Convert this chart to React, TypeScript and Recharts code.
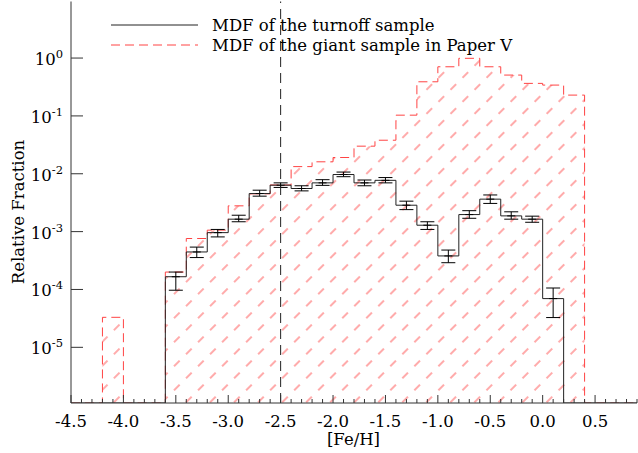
import { ComposedChart, Line, Area, Scatter, ErrorBar, XAxis, YAxis, ReferenceLine } from 'recharts'

// bins of the turnoff MDF (left edges + final right edge)
const turnoffEdges = [-3.6, -3.4, -3.2, -3.0, -2.8, -2.6, -2.4, -2.2, -2.0, -1.8, -1.6, -1.4, -1.2, -1.0, -0.8, -0.6, -0.4, -0.2, 0.0, 0.2]
const turnoffFrac = [1.66e-4, 4.45e-4, 9.6e-4, 1.64e-3, 4.55e-3, 6.35e-3, 5.56e-3, 6.96e-3, 9.7e-3, 6.96e-3, 7.7e-3, 2.86e-3, 1.29e-3, 3.8e-4, 1.97e-3, 3.64e-3, 1.87e-3, 1.64e-3, 6.95e-5]
const turnoffLow = [9.7e-5, 3.56e-4, 8.1e-4, 1.48e-3, 4.1e-3, 5.8e-3, 5.06e-3, 6.3e-3, 8.9e-3, 6.2e-3, 6.96e-3, 2.4e-3, 1.09e-3, 2.9e-4, 1.7e-3, 3.07e-3, 1.64e-3, 1.45e-3, 3.27e-5]
const turnoffHigh = [2.0e-4, 5.4e-4, 1.09e-3, 1.92e-3, 5.2e-3, 6.96e-3, 6.2e-3, 7.9e-3, 1.07e-2, 7.8e-3, 8.6e-3, 3.36e-3, 1.48e-3, 4.8e-4, 2.3e-3, 4.3e-3, 2.2e-3, 1.85e-3, 1.06e-4]

// giant sample MDF from Paper V (0 = empty bin)
const giantEdges = [-4.2, -4.0, -3.8, -3.6, -3.4, -3.2, -3.0, -2.8, -2.6, -2.4, -2.2, -2.0, -1.8, -1.6, -1.4, -1.2, -1.0, -0.8, -0.6, -0.4, -0.2, 0.0, 0.2, 0.4]
const giantFrac = [3.3e-5, 0, 0, 2.0e-4, 7.6e-4, 1.06e-3, 2.79e-3, 4.5e-3, 6.4e-3, 1.33e-2, 1.61e-2, 1.91e-2, 3.0e-2, 3.8e-2, 0.103, 0.389, 0.707, 0.99, 0.707, 0.508, 0.365, 0.341, 0.229]

const majorX = [-4.5, -4.0, -3.5, -3.0, -2.5, -2.0, -1.5, -1.0, -0.5, 0.0, 0.5]
const majorY = [1e-5, 1e-4, 1e-3, 1e-2, 1e-1, 1]
const legendItems = [
  { label: 'MDF of the turnoff sample', color: '#222', dash: undefined },
  { label: 'MDF of the giant sample in Paper V', color: '#ff4444', dash: '9 5' },
]

const X_MIN = -4.5
const X_MAX = 0.9
const Y_MIN = 1.09e-6
const Y_MAX = 9.5
const EMPTY = Y_MIN // empty bins sit on the bottom of the log axis
const FONT = 'DejaVu Serif'
const AXIS = '#333'

const minorX: number[] = []
for (let i = 0; i <= 54; i++) minorX.push(Math.round((X_MIN + i * 0.1) * 10) / 10)

function stepData(edges: number[], frac: number[]) {
  const pts = [{ x: X_MIN, y: EMPTY }]
  edges.slice(0, -1).forEach((e, i) => pts.push({ x: e, y: frac[i] > 0 ? frac[i] : EMPTY }))
  pts.push({ x: edges[edges.length - 1], y: EMPTY })
  pts.push({ x: X_MAX, y: EMPTY })
  return pts
}

const turnoffSteps = stepData(turnoffEdges, turnoffFrac)
const giantSteps = stepData(giantEdges, giantFrac)
const turnoffPoints = turnoffFrac.map((v, i) => ({
  x: (turnoffEdges[i] + turnoffEdges[i + 1]) / 2,
  y: v,
  err: [v - turnoffLow[i], turnoffHigh[i] - v],
}))

const isMajor = (v: number) => majorX.some((m) => Math.abs(m - v) < 1e-6)
const textStyle = { fontFamily: FONT, fontSize: 16.5, fill: '#000' }

function BottomTick({ x, y, payload }: any) {
  const major = isMajor(payload.value)
  return (
    <g>
      <line x1={x} x2={x} y1={y} y2={y - (major ? 8 : 4)} stroke={AXIS} />
      {major && (
        <text x={x} y={y + 23.5} textAnchor="middle" style={textStyle}>
          {payload.value.toFixed(1)}
        </text>
      )}
    </g>
  )
}

function TopTick({ x, y, payload }: any) {
  const major = isMajor(payload.value)
  return <line x1={x} x2={x} y1={y} y2={y + (major ? 8 : 4)} stroke={AXIS} />
}

function LeftTick({ x, y, payload }: any) {
  const exp = Math.round(Math.log10(payload.value))
  return (
    <g>
      <line x1={x} x2={x + 12} y1={y} y2={y} stroke={AXIS} />
      <text x={x - 8} y={y + 7} textAnchor="end" style={textStyle}>
        <tspan>10</tspan>
        <tspan dy={-7} style={{ fontSize: 11.5 }}>{exp === 0 ? '0' : `-${-exp}`}</tspan>
      </text>
    </g>
  )
}

function RightTick({ x, y }: any) {
  return <line x1={x} x2={x - 12} y1={y} y2={y} stroke={AXIS} />
}

function TickMark({ cx, cy }: any) {
  return <line x1={cx - 4} x2={cx + 4} y1={cy} y2={cy} stroke="#000" />
}

export default function App() {
  return (
    <div style={{ position: 'absolute', left: 0, top: 0, width: 638, height: 453, background: '#fff', fontFamily: FONT }}>
      <svg width={0} height={0} style={{ position: 'absolute' }}>
        <defs>
          <pattern id="hatch" patternUnits="userSpaceOnUse" width={17} height={17} patternTransform="rotate(-45)">
            <line x1={0} y1={8} x2={8} y2={8} stroke="#ff3b3b" strokeOpacity={0.85} strokeWidth={1} />
          </pattern>
        </defs>
      </svg>
      <ComposedChart width={638} height={453} margin={{ top: 1.5, right: 1, bottom: 0, left: 0 }}>
        <XAxis
          type="number"
          dataKey="x"
          domain={[X_MIN, X_MAX]}
          allowDataOverflow
          ticks={minorX}
          interval={0}
          height={50}
          tickSize={0}
          tickMargin={0}
          tickLine={false}
          tick={<BottomTick />}
          axisLine={{ stroke: AXIS }}
          label={{
            value: '[Fe/H]',
            content: () => (
              <text x={353.5} y={445} textAnchor="middle" style={textStyle}>
                [Fe/H]
              </text>
            ),
          }}
        />
        <XAxis
          xAxisId="top"
          orientation="top"
          type="number"
          domain={[X_MIN, X_MAX]}
          allowDataOverflow
          ticks={minorX}
          interval={0}
          height={0}
          tickSize={0}
          tickMargin={0}
          tickLine={false}
          tick={<TopTick />}
          axisLine={{ stroke: AXIS }}
        />
        <YAxis
          type="number"
          dataKey="y"
          scale="log"
          domain={[Y_MIN, Y_MAX]}
          allowDataOverflow
          ticks={majorY}
          interval={0}
          width={71}
          tickSize={0}
          tickMargin={0}
          tickLine={false}
          tick={<LeftTick />}
          axisLine={{ stroke: AXIS }}
          label={{
            value: 'Relative Fraction',
            content: () => (
              <text x={24} y={212} transform="rotate(-90 24 212)" textAnchor="middle" style={textStyle}>
                Relative Fraction
              </text>
            ),
          }}
        />
        <YAxis
          yAxisId="right"
          orientation="right"
          type="number"
          scale="log"
          domain={[Y_MIN, Y_MAX]}
          allowDataOverflow
          ticks={majorY}
          interval={0}
          width={0}
          tickSize={0}
          tickMargin={0}
          tickLine={false}
          tick={<RightTick />}
          axisLine={{ stroke: AXIS }}
        />
        <Area
          data={giantSteps}
          dataKey="y"
          type="stepAfter"
          stroke="#ff4444"
          strokeWidth={1}
          strokeDasharray="9 5"
          fill="url(#hatch)"
          fillOpacity={1}
          isAnimationActive={false}
        />
        <Line data={turnoffSteps} dataKey="y" type="stepAfter" stroke="#222" strokeWidth={1} dot={false} isAnimationActive={false} />
        <Scatter data={turnoffPoints} dataKey="y" shape={<TickMark />} isAnimationActive={false}>
          <ErrorBar dataKey="err" direction="y" width={7} stroke="#000" strokeWidth={1} isAnimationActive={false} />
        </Scatter>
        <ReferenceLine x={-2.5} stroke="#222" strokeDasharray="10 6" />
      </ComposedChart>
      <svg width={638} height={453} style={{ position: 'absolute', left: 0, top: 0, pointerEvents: 'none' }}>
        {legendItems.map((item, i) => (
          <g key={item.label}>
            <line x1={111} x2={198} y1={25 + i * 20} y2={25 + i * 20} stroke={item.color} strokeDasharray={item.dash} />
            <text x={212} y={31 + i * 20} style={textStyle}>
              {item.label}
            </text>
          </g>
        ))}
      </svg>
    </div>
  )
}
